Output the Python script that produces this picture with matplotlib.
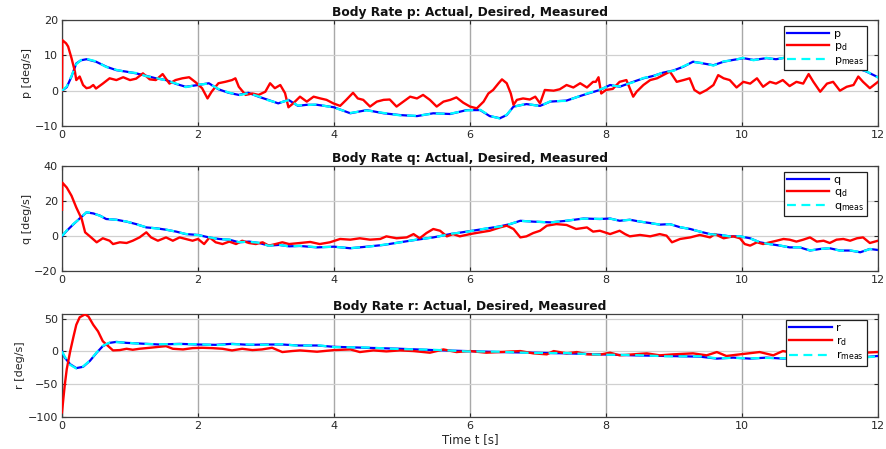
import matplotlib
matplotlib.use("Agg")
import matplotlib.pyplot as plt

# ---------------- data ----------------
t_p = [0, 0.07, 0.14, 0.21, 0.28, 0.36, 0.5, 0.65, 0.8, 0.94, 1.09, 1.24, 1.38, 1.53, 1.68, 1.82, 2.0, 2.16, 2.3,
       2.45, 2.6, 2.74, 2.89, 3.03, 3.18, 3.33, 3.47, 3.6, 3.75, 4.0, 4.24, 4.48, 4.73, 4.97, 5.22, 5.46, 5.71, 5.95,
       6.15, 6.29, 6.44, 6.54, 6.64, 6.83, 7.03, 7.18, 7.42, 7.67, 7.91, 8.06, 8.2, 8.4, 8.55, 8.7, 8.84, 8.99, 9.14,
       9.28, 9.43, 9.58, 9.73, 9.87, 10.02, 10.17, 10.36, 10.5, 10.66, 10.85, 11.05, 11.25, 11.44, 11.64, 11.83, 12.0]
p_act = [0, 1, 4, 7.7, 8.6, 8.9, 8.2, 6.8, 5.8, 5.4, 4.9, 4.2, 3.5, 3.0, 1.9, 1.1, 1.6, 2.1, 0.4,
         -0.6, -1.2, -0.6, -1.7, -2.6, -3.6, -2.6, -4.3, -4.0, -4.0, -4.7, -6.4, -5.5, -6.4, -6.9, -7.2, -6.4, -6.6, -5.5,
         -5.5, -7.2, -7.8, -6.9, -4.5, -3.8, -4.3, -3.1, -2.8, -1.2, 0.2, 1.6, 1.1, 2.5, 3.5, 4.2, 5.1, 5.7, 6.8,
         8.2, 7.7, 7.2, 8.2, 8.7, 9.2, 8.7, 9.2, 8.9, 9.4, 8.7, 8.7, 8.2, 8.2, 6.8, 5.4, 3.8]
p_meas = [0, 1.2, 4.2, 7.5, 8.7, 9.0, 8.3, 6.7, 5.9, 5.3, 5.0, 4.1, 3.6, 2.9, 2.0, 1.0, 1.7, 2.0, 0.5,
          -0.5, -1.3, -0.7, -1.6, -2.7, -3.5, -2.7, -4.2, -4.1, -3.9, -4.8, -6.3, -5.6, -6.3, -7.0, -7.1, -6.5, -6.5, -5.6,
          -5.4, -7.1, -7.9, -6.8, -4.6, -3.7, -4.4, -3.0, -2.9, -1.1, 0.3, 1.5, 1.2, 2.4, 3.6, 4.1, 5.2, 5.6, 6.9,
          8.1, 7.8, 7.1, 8.3, 8.6, 9.3, 8.6, 9.3, 8.8, 9.5, 8.6, 8.8, 8.1, 8.3, 6.7, 5.5, 3.7]
t_pd = [0, 0.005, 0.06, 0.09, 0.14, 0.19, 0.21, 0.26, 0.31, 0.36, 0.41, 0.46, 0.5, 0.55, 0.6, 0.7, 0.8, 0.9, 1.0,
        1.09, 1.19, 1.29, 1.38, 1.48, 1.58, 1.67, 1.77, 1.87, 1.97, 2.06, 2.14, 2.2, 2.3, 2.4, 2.5, 2.55, 2.6, 2.7,
        2.8, 2.89, 2.99, 3.06, 3.13, 3.21, 3.28, 3.33, 3.4, 3.5, 3.6, 3.7, 3.8, 3.89, 3.99, 4.09, 4.18, 4.28, 4.35,
        4.43, 4.53, 4.63, 4.73, 4.82, 4.92, 5.02, 5.12, 5.22, 5.31, 5.41, 5.51, 5.61, 5.71, 5.8, 5.9, 6.0, 6.1, 6.2,
        6.27, 6.34, 6.42, 6.47, 6.54, 6.6, 6.64, 6.69, 6.78, 6.88, 6.96, 7.03, 7.1, 7.23, 7.32, 7.42, 7.52, 7.62,
        7.72, 7.81, 7.85, 7.89, 7.93, 8.0, 8.1, 8.2, 8.3, 8.4, 8.45, 8.55, 8.65, 8.75, 8.84, 8.94, 9.04, 9.14, 9.23,
        9.3, 9.38, 9.48, 9.58, 9.65, 9.73, 9.82, 9.92, 10.02, 10.12, 10.22, 10.31, 10.41, 10.5, 10.6, 10.7, 10.8,
        10.9, 10.98, 11.05, 11.15, 11.25, 11.34, 11.44, 11.54, 11.64, 11.71, 11.78, 11.88, 12.0]
p_des = [0, 14.3, 13.4, 12.5, 9.2, 5.4, 3.0, 4.0, 1.6, 0.7, 0.9, 1.6, 0.6, 1.3, 2.0, 3.5, 3.0, 3.8, 3.0,
         3.4, 4.9, 3.2, 3.0, 4.7, 2.0, 3.0, 3.5, 3.8, 2.3, 0.7, -2.2, -0.3, 2.1, 2.5, 3.0, 3.5, 1.1, -1.2,
         -0.8, -1.2, -0.3, 2.1, 0.7, 1.6, -0.7, -4.7, -3.6, -1.7, -3.1, -1.7, -2.2, -2.6, -3.6, -4.3, -2.6, -0.6, -2.2,
         -2.6, -4.5, -3.1, -2.6, -2.5, -4.5, -3.1, -1.7, -2.2, -1.2, -2.6, -4.5, -3.1, -2.6, -1.9, -3.4, -4.5, -5.0, -3.1,
         -0.8, 0.2, 2.1, 3.2, 2.1, -0.8, -4.0, -2.6, -2.2, -2.5, -1.7, -3.6, 0.2, 0.0, 0.4, 1.6, 0.9, 2.1,
         0.9, 2.5, 2.5, 3.8, -0.8, 0.2, 0.5, 2.5, 3.0, -1.7, -0.3, 1.6, 3.0, 3.5, 4.4, 5.4, 2.5, 3.0, 3.5,
         0.2, -0.8, 0.2, 1.6, 4.4, 3.5, 3.0, 0.9, 2.5, 2.0, 3.5, 1.1, 2.5, 2.0, 3.0, 1.3, 2.5,
         2.0, 4.7, 2.5, -0.3, 2.0, 2.5, 0.0, 1.1, 1.6, 4.0, 2.5, 0.7, 2.5]

t_q = [0, 0.07, 0.17, 0.26, 0.36, 0.46, 0.56, 0.65, 0.8, 0.95, 1.09, 1.24, 1.39, 1.53, 1.68, 1.82, 2.0, 2.16, 2.31,
       2.46, 2.6, 2.75, 2.9, 3.04, 3.19, 3.34, 3.5, 3.75, 4.0, 4.24, 4.48, 4.73, 4.97, 5.22, 5.46, 5.71, 5.95, 6.2,
       6.44, 6.59, 6.74, 6.93, 7.18, 7.42, 7.67, 7.91, 8.06, 8.2, 8.35, 8.5, 8.65, 8.79, 8.94, 9.09, 9.24, 9.38, 9.53,
       9.68, 9.82, 9.97, 10.12, 10.26, 10.41, 10.56, 10.7, 10.85, 11.0, 11.15, 11.29, 11.44, 11.59, 11.74, 11.88, 12.0]
q_act = [0, 3, 6.8, 10, 13.5, 12.9, 11.6, 9.7, 9.3, 8.2, 6.8, 4.9, 4.4, 3.6, 2.5, 1.1, 0.6, -0.8, -1.7,
         -2.1, -3.6, -3.2, -4.0, -5.5, -5.1, -5.9, -5.7, -6.5, -6.1, -7.0, -6.1, -5.1, -3.6, -2.1, -0.8, 1.1, 2.5, 4.0,
         5.5, 6.8, 8.7, 8.2, 7.8, 8.7, 10.0, 9.7, 10.0, 8.7, 9.3, 8.2, 7.4, 6.5, 6.8, 5.0, 4.0, 2.5, 1.1,
         0.6, -0.2, -0.2, -1.3, -3.6, -4.6, -5.5, -6.5, -6.5, -8.3, -7.4, -7.0, -8.3, -8.3, -9.3, -7.4, -8.0]
q_meas = [0, 3.2, 7.0, 9.8, 13.6, 13.0, 11.5, 9.8, 9.2, 8.3, 6.7, 5.0, 4.3, 3.7, 2.4, 1.2, 0.5, -0.7, -1.8,
          -2.0, -3.5, -3.3, -3.9, -5.6, -5.0, -6.0, -5.6, -6.4, -6.2, -6.9, -6.2, -5.0, -3.7, -2.0, -0.9, 1.2, 2.4, 4.1,
          5.4, 6.9, 8.6, 8.3, 7.7, 8.8, 9.9, 9.8, 9.9, 8.8, 9.2, 8.3, 7.3, 6.6, 6.7, 5.1, 3.9, 2.6, 1.0,
          0.7, -0.3, -0.1, -1.4, -3.5, -4.7, -5.4, -6.6, -6.4, -8.2, -7.5, -6.9, -8.4, -8.2, -9.2, -7.5, -7.9]
t_qd = [0, 0.005, 0.07, 0.14, 0.21, 0.29, 0.34, 0.41, 0.51, 0.6, 0.7, 0.75, 0.85, 0.95, 1.04, 1.14, 1.24, 1.31,
        1.41, 1.53, 1.63, 1.73, 1.82, 1.92, 2.0, 2.09, 2.17, 2.26, 2.36, 2.46, 2.56, 2.65, 2.75, 2.85, 2.95, 3.04,
        3.14, 3.24, 3.34, 3.5, 3.65, 3.79, 3.94, 4.09, 4.24, 4.38, 4.53, 4.68, 4.77, 4.92, 5.07, 5.17, 5.26, 5.36,
        5.46, 5.56, 5.66, 5.75, 5.85, 6.0, 6.15, 6.29, 6.44, 6.54, 6.64, 6.74, 6.83, 6.93, 7.03, 7.13, 7.27, 7.42,
        7.56, 7.72, 7.81, 7.91, 8.06, 8.2, 8.28, 8.35, 8.5, 8.65, 8.79, 8.89, 8.97, 9.09, 9.24, 9.38, 9.53, 9.6,
        9.73, 9.87, 9.97, 10.04, 10.12, 10.22, 10.31, 10.41, 10.51, 10.61, 10.7, 10.8, 10.9, 11.0, 11.1, 11.2,
        11.29, 11.39, 11.49, 11.59, 11.69, 11.78, 11.88, 12.0]
q_des = [15, 30.5, 27.7, 23.0, 16.3, 9.7, 2.1, -0.2, -3.6, -1.3, -2.7, -4.6, -3.6, -4.0, -2.7, -0.8, 2.1, -0.8,
         -2.7, -0.8, -2.7, -0.8, -1.7, -2.7, -1.7, -4.6, -0.8, -3.6, -4.6, -3.2, -4.6, -2.7, -4.0, -4.6, -3.6, -5.5,
         -4.6, -3.6, -4.6, -4.0, -3.4, -4.6, -3.6, -1.7, -2.1, -1.3, -2.1, -1.7, -0.2, -1.3, -0.8, 1.1, -1.3, 1.7,
         4.0, 3.0, -0.2, 1.1, -0.2, 1.1, 2.1, 3.0, 4.9, 5.9, 4.0, -0.8, -0.2, 1.7, 3.0, 5.9, 6.8, 6.3,
         4.0, 4.9, 2.5, 3.0, 1.1, 3.0, 1.1, -0.2, 0.6, -0.2, 1.1, 0.2, -3.6, -1.7, -0.8, 0.6, -0.8, 1.1,
         -1.3, -0.2, -1.3, -4.6, -5.5, -3.6, -4.6, -3.6, -2.7, -1.7, -2.1, -3.2, -2.1, -0.8, -3.2, -2.7,
         -4.0, -2.1, -1.7, -2.7, -1.3, -0.8, -4.0, -2.7]

t_r = [0, 0.04, 0.12, 0.21, 0.31, 0.41, 0.51, 0.6, 0.7, 0.8, 0.95, 1.14, 1.43, 1.73, 2.0, 2.26, 2.5, 2.75, 3.0,
       3.24, 3.48, 3.75, 4.0, 4.48, 4.97, 5.46, 5.95, 6.44, 6.93, 7.42, 7.91, 8.4, 8.89, 9.38, 9.63, 9.87, 10.12,
       10.36, 10.61, 10.85, 11.34, 11.83, 12.0]
r_act = [0, -9.5, -19.5, -25.5, -23.5, -14.5, -2, 8, 13, 14.5, 13, 12, 10.5, 11.5, 10.5, 10, 11.5, 10, 10.5,
         10.5, 9, 9, 7, 5.5, 4, 2, 0.5, -1, -2, -3, -4.5, -6, -7, -8, -11, -9.5, -11,
         -9.5, -11, -9.5, -9.5, -8.5, -7]
r_meas = [0, -8, -20.5, -26, -23, -14, -1.5, 8.5, 13.5, 14, 13.5, 11.5, 11, 11, 11, 9.5, 11, 10.5, 10,
          11, 8.5, 9.5, 6.5, 6, 3.5, 2.5, 0, -0.5, -2.5, -2.5, -5, -5.5, -7.5, -7.5, -10.5, -10, -10.5,
          -10, -10.5, -10, -9, -9, -7.5]
t_rd = [0, 0.02, 0.04, 0.07, 0.12, 0.17, 0.21, 0.26, 0.34, 0.39, 0.46, 0.53, 0.6, 0.68, 0.75, 0.85, 0.95, 1.04,
        1.14, 1.29, 1.43, 1.53, 1.63, 1.78, 1.92, 2.06, 2.21, 2.36, 2.5, 2.65, 2.8, 2.94, 3.09, 3.24, 3.38, 3.5,
        3.75, 4.0, 4.24, 4.38, 4.58, 4.77, 4.97, 5.17, 5.41, 5.61, 5.8, 6.0, 6.24, 6.44, 6.74, 6.93, 7.13, 7.23,
        7.42, 7.57, 7.72, 7.91, 8.06, 8.2, 8.4, 8.6, 8.79, 8.99, 9.28, 9.48, 9.63, 9.77, 9.97, 10.26, 10.46, 10.6,
        10.8, 11.0, 11.2, 11.4, 11.6, 11.8, 12.0]
r_des = [-93, -72, -52, -27, 0, 23, 40.5, 52, 56.5, 53, 40.5, 30.5, 15.5, 8, 1.5, 2, 4, 2.5,
         4, 5.5, 7, 8, 4, 3, 5, 5.5, 5, 4, 1.5, 4, 2, 3, 5.5, -1, 0.5, 1.5,
         -0.5, 2, 3, -1, 1.5, 0, 1.5, 0.5, -2, 3, -1, 0.5, -2, -1, 0.5, -3, -4.5, 0.5,
         -3, -1, -4.5, -5, -2, -6, -4.5, -3, -6, -4.5, -3, -6, -1, -7, -4.5, -1, -6, 0.5,
         -3, -5, -2, -6, -3, -2, -1]

titles = ["Body Rate p: Actual, Desired, Measured",
          "Body Rate q: Actual, Desired, Measured",
          "Body Rate r: Actual, Desired, Measured"]
ylabels = ["p [deg/s]", "q [deg/s]", "r [deg/s]"]
legend_labels = [["p", r"p$_\mathrm{d}$", r"p$_\mathrm{meas}$"],
                 ["q", r"q$_\mathrm{d}$", r"q$_\mathrm{meas}$"],
                 ["r", r"r$_\mathrm{d}$", r"r$_\mathrm{meas}$"]]
yticks = [[-10, 0, 10, 20], [-20, 0, 20, 40], [-100, -50, 0, 50]]
ylims = [(-10, 20), (-20, 40), (-100, 57)]
xticks = [0, 2, 4, 6, 8, 10, 12]

series = [(t_p, p_act, p_meas, t_pd, p_des),
          (t_q, q_act, q_meas, t_qd, q_des),
          (t_r, r_act, r_meas, t_rd, r_des)]

# ---------------- figure ----------------
plt.rcParams['font.family'] = ['DejaVu Sans']
plt.rcParams['mathtext.fontset'] = 'dejavusans'
W, H = 886, 449
fig = plt.figure(figsize=(W / 100, H / 100), dpi=100)

# axes boxes in pixels: (left, top, right, bottom)
boxes = [(62, 20, 878, 126), (62, 166, 878, 271), (62, 314, 878, 417)]

for i, (box, ser) in enumerate(zip(boxes, series)):
    l, tp, r, b = box
    ax = fig.add_axes([l / W, 1 - b / H, (r - l) / W, (b - tp) / H])
    ta, act, meas, td, des = ser
    h1, = ax.plot(ta, act, color='#0000ff', lw=1.6, zorder=3)
    h2, = ax.plot(td, des, color='#ff0000', lw=1.7, zorder=4)
    h3, = ax.plot(ta, meas, color='#00ffff', lw=1.6, ls=(0, (4, 2.5)), zorder=5)
    ax.set_xlim(0, 12)
    ax.set_ylim(*ylims[i])
    ax.set_xticks(xticks)
    ax.set_yticks(yticks[i])
    ax.tick_params(direction='in', top=True, right=True, length=3, width=0.8,
                   labelsize=8, colors='#262626', pad=3)
    ax.xaxis.grid(True, color='#a8a8a8', lw=1.0)
    ax.yaxis.grid(True, color='#d0d0d0', lw=0.9)
    ax.set_axisbelow(True)
    for s in ax.spines.values():
        s.set_color('#404040')
        s.set_linewidth(0.9)
    ax.set_title(titles[i], fontsize=8.8, fontweight='bold', pad=3, color='#111111')
    ax.set_ylabel(ylabels[i], fontsize=8, color='#262626', labelpad=2)
    leg = ax.legend([h1, h2, h3], legend_labels[i], loc='upper right',
                    bbox_to_anchor=(1 - 11 / (r - l), 1 - 6 / (b - tp)),
                    fontsize=8, frameon=True, fancybox=False, framealpha=1,
                    edgecolor='#202020', handlelength=3.8, handletextpad=0.4,
                    labelspacing=0.15, borderpad=0.3, borderaxespad=0)
    leg.get_frame().set_linewidth(0.9)
    leg.set_zorder(10)
    if i == 2:
        ax.set_xlabel("Time t [s]", fontsize=8.5, color='#262626', labelpad=1)

fig.savefig("out.png", dpi=100)
